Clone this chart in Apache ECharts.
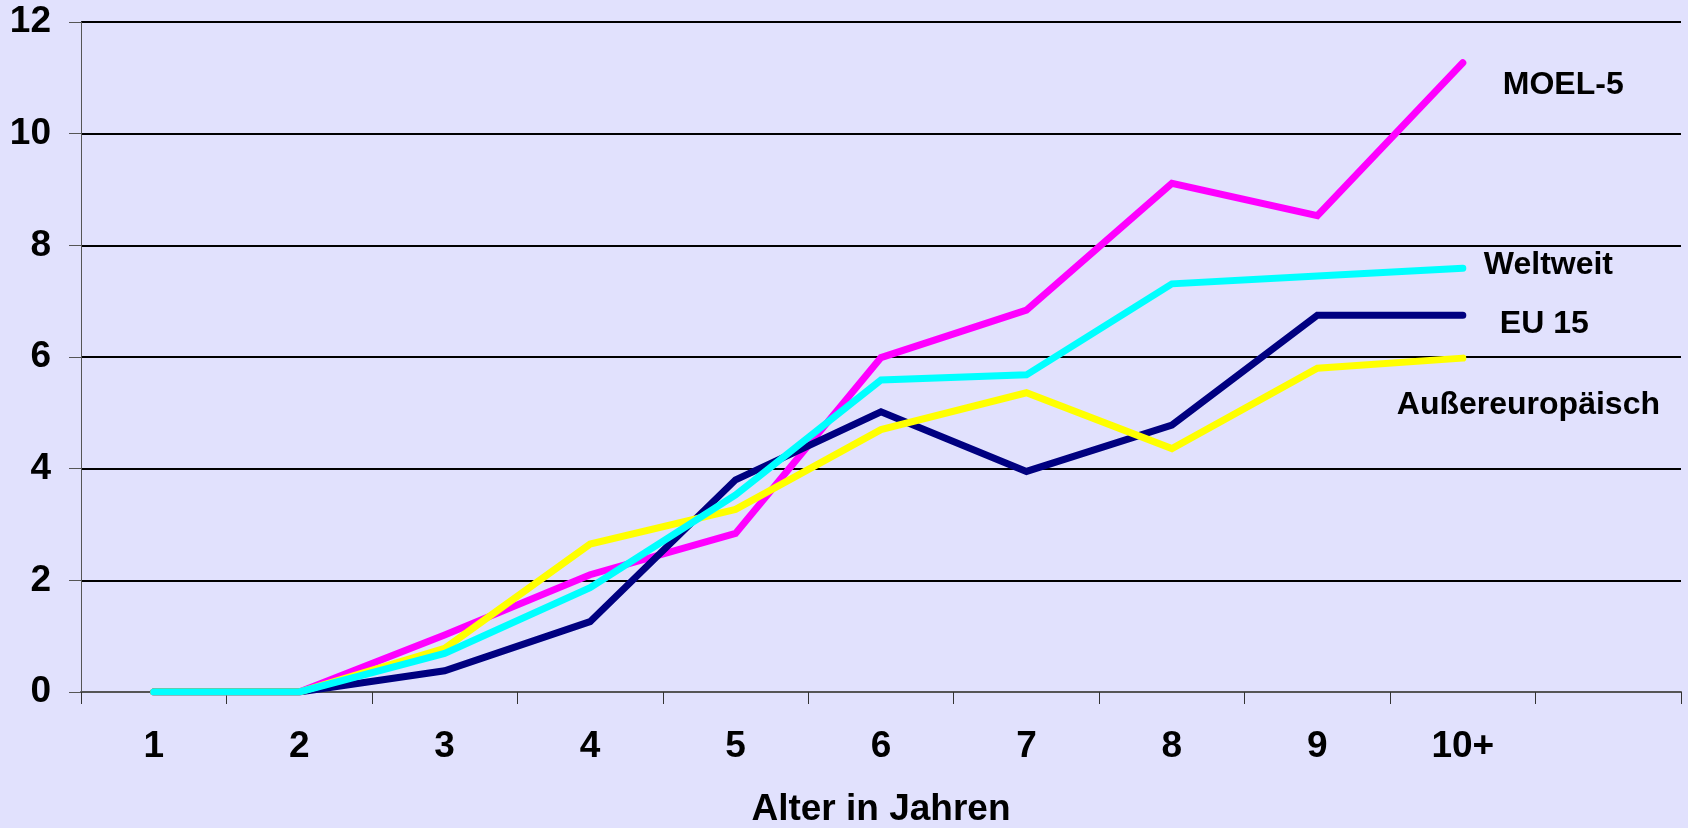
<!DOCTYPE html>
<html><head><meta charset="utf-8">
<script src="https://cdn.jsdelivr.net/npm/echarts@6/dist/echarts.min.js"></script>
<style>html,body{margin:0;padding:0;background:#E1E1FD;}#c{width:1688px;height:828px;}</style>
</head><body><div id="c"></div>
<script>
const categories = ['1','2','3','4','5','6','7','8','9','10+',''];
const yTicks = {min:0, max:12, interval:2};
const moel5 = [0,0,1.02,2.10,2.84,5.99,6.84,9.11,8.53,11.27];
const weltweit = [0,0,0.69,1.87,3.53,5.59,5.68,7.31,7.45,7.59];
const eu15 = [0,0,0.38,1.26,3.80,5.02,3.95,4.78,6.75,6.75];
const aussereuropaeisch = [0,0,0.78,2.65,3.27,4.70,5.36,4.36,5.80,5.98];
const names = ['MOEL-5','EU 15','Außereuropäisch','Weltweit'];
const xTitle = 'Alter in Jahren';

const font = '"Liberation Sans", Arial, sans-serif';
function mk(name, data, color, off){
  return {name, type:'line', data, symbol:'none', smooth:false,
    lineStyle:{color, width:7, cap:'round', join:'miter'},
    itemStyle:{color},
    endLabel:{show:true, formatter:name, distance:0, offset:off,
      fontFamily:font, fontWeight:'bold', fontSize:32, color:'#000'},
    emphasis:{disabled:true}, animation:false};
}
const chart = echarts.init(document.getElementById('c'));
chart.setOption({
  backgroundColor:'#E1E1FD',
  animation:false,
  grid:{left:81, right:7, top:22, bottom:136, containLabel:false, outerBoundsMode:'none'},
  xAxis:{type:'category', data:categories, boundaryGap:true,
    axisLine:{lineStyle:{color:'#555', width:2}},
    axisTick:{show:true, interval:0, length:12, lineStyle:{color:'#333', width:1}},
    axisLabel:{interval:0, margin:36, fontFamily:font, fontWeight:'bold', fontSize:37, color:'#000'},
    name:xTitle, nameLocation:'middle', nameGap:99,
    nameTextStyle:{fontFamily:font, fontWeight:'bold', fontSize:37, color:'#000'}},
  yAxis:{type:'value', min:yTicks.min, max:yTicks.max, interval:yTicks.interval,
    axisLine:{show:true, lineStyle:{color:'#555', width:1}},
    axisTick:{show:true, length:12, lineStyle:{color:'#555'}},
    axisLabel:{margin:30, fontFamily:font, fontWeight:'bold', fontSize:37, color:'#000'},
    splitLine:{show:true, lineStyle:{color:'#000', width:2}}},
  series:[
    mk(names[0], moel5, '#FF00FF', [40,22]),
    mk(names[1], eu15, '#000080', [37,9]),
    mk(names[2], aussereuropaeisch, '#FFFF00', [-66,47]),
    mk(names[3], weltweit, '#00FFFF', [21,-3])
  ]
});
</script></body></html>
